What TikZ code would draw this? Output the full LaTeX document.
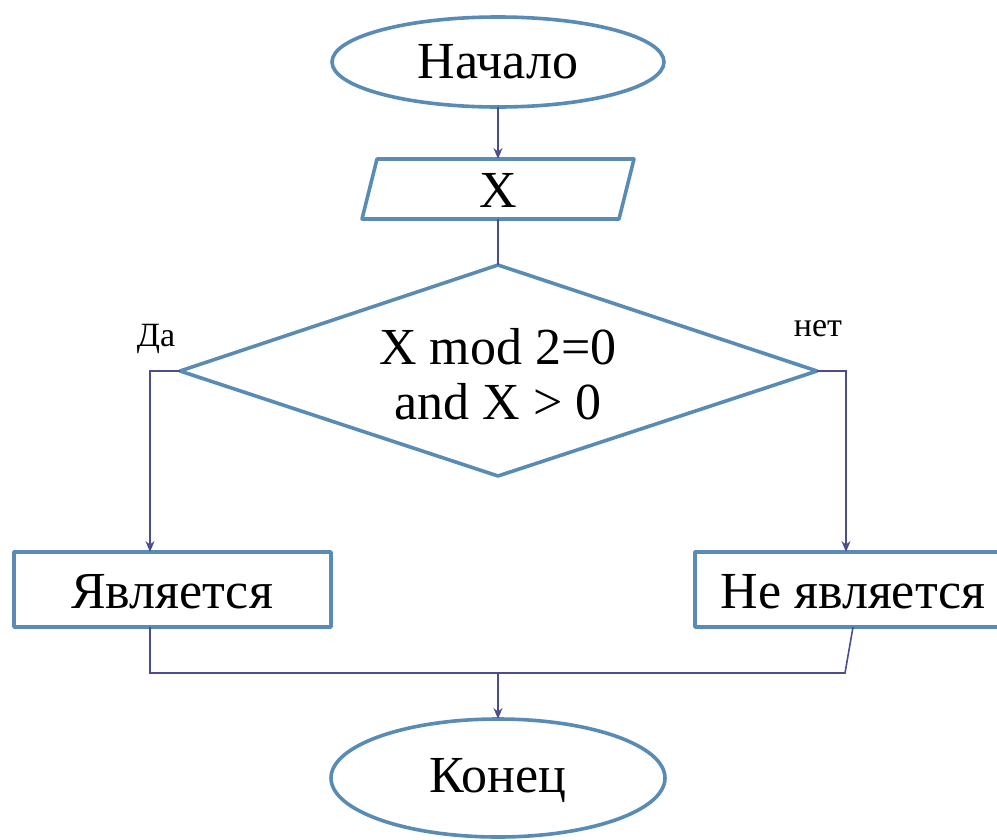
\documentclass[tikz,border=0pt]{standalone}
\usepackage{fontspec}
\setmainfont{Liberation Serif}
\usetikzlibrary{arrows.meta}
\definecolor{shapeblue}{RGB}{88,140,182}
\definecolor{linkblue}{RGB}{76,76,142}
\tikzset{
  shapeline/.style={draw=shapeblue, line width=3.6pt, line join=round, fill=white},
  link/.style={draw=linkblue, line width=1.6pt},
  arrowlink/.style={link, -{Stealth[length=11pt,width=9pt]}},
  bigtext/.style={font=\fontsize{52}{58}\selectfont, inner sep=0pt},
  smalltext/.style={font=\fontsize{34}{38}\selectfont, inner sep=0pt},
}
\begin{document}
\begin{tikzpicture}[x=1pt,y=-1pt]
\useasboundingbox (0,0) rectangle (997,839);
% coordinates
\coordinate (sTop) at (498,17);
\coordinate (sBot) at (498,107);
\coordinate (pTop) at (498,159);
\coordinate (pBot) at (498,219);
\coordinate (dTop) at (498,265);
\coordinate (dLeft) at (180,371);
\coordinate (dRight) at (817,371);
\coordinate (dBot) at (498,476);
\coordinate (lCorner) at (150,371);
\coordinate (rCorner) at (846,371);
\coordinate (lTop) at (150,552);
\coordinate (rTop) at (846,552);
\coordinate (lBot) at (150,627);
\coordinate (rBot) at (853,627);
\coordinate (jLeft) at (150,673);
\coordinate (jRight) at (845,673);
\coordinate (jMid) at (498,673);
\coordinate (eTop) at (498,719);
% shapes
\path[shapeline] (498,62) ellipse [x radius=166, y radius=45];
\path[shapeline] (377,159) -- (634,159) -- (619,219) -- (362,219) -- cycle;
\path[shapeline] (dTop) -- (dRight) -- (dBot) -- (dLeft) -- cycle;
\path[shapeline] (14,552) rectangle (331,627);
\path[shapeline] (695,552) rectangle (1010,627);
\path[shapeline] (498,778) ellipse [x radius=167, y radius=59];
% texts
\node[bigtext] (start) at (498,62) {Начало};
\node[bigtext] (input) at (498,190) {X};
\node[bigtext] (cond1) at (498,347) {X mod 2=0};
\node[bigtext] (cond2) at (498,402) {and X > 0};
\node[bigtext] (yesbox) at (172,592) {Является};
\node[bigtext] (nobox) at (853,592) {Не является};
\node[bigtext] (end) at (498,780) {Конец};
\node[smalltext] (yes) at (156,339) {Да};
\node[smalltext] (no) at (818,329) {нет};
% connectors
\draw[arrowlink] (sBot) -- (pTop);
\draw[link] (pBot) -- (dTop);
\draw[arrowlink] (dLeft) -- (lCorner) -- (lTop);
\draw[arrowlink] (dRight) -- (rCorner) -- (rTop);
\draw[link] (lBot) -- (jLeft) -- (jRight) -- (rBot);
\draw[arrowlink] (jMid) -- (eTop);
\end{tikzpicture}
\end{document}
